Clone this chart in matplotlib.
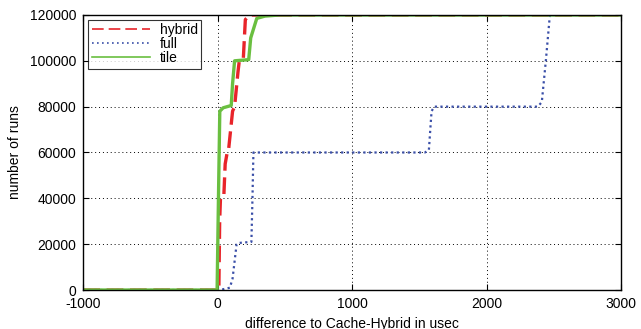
import matplotlib
matplotlib.use("Agg")
import matplotlib.pyplot as plt
from matplotlib.lines import Line2D
import numpy as np

plt.rcParams['font.family'] = ['Liberation Sans', 'DejaVu Sans']

# difference to Cache-Hybrid (usec) vs cumulative number of runs
hybrid_x = [-1000, 8, 14, 20, 45, 55, 70, 80, 110, 125, 150, 160, 190, 205, 240, 3000]
hybrid_y = [0, 0, 30000, 40000, 41000, 55000, 60000, 61000, 78000, 80000, 95000, 100000, 101000, 118000, 120000, 120000]

full_x = [-1000, 15, 90, 110, 140, 150, 250, 258, 265, 1540, 1570, 1590, 1610, 2380, 2410, 2440, 2470, 3000]
full_y = [0, 0, 1000, 5000, 20000, 20500, 21000, 40000, 60000, 60000, 61000, 78000, 80000, 80000, 82000, 100000, 120000, 120000]

tile_x = [-1000, -5, 5, 15, 40, 100, 110, 125, 230, 245, 290, 350, 460, 3000]
tile_y = [0, 0, 40000, 78000, 79500, 80500, 90000, 100000, 100500, 110000, 118500, 119500, 120000, 120000]

xticks = [-1000, 0, 1000, 2000, 3000]
yticks = [0, 20000, 40000, 60000, 80000, 100000, 120000]

red = '#e8242a'
blue = '#3a4fa8'
green = '#6abf40'

fig = plt.figure(figsize=(6.41, 3.29), dpi=100)
ax = fig.add_axes([0.13, 0.1185, 0.839, 0.836])

ax.plot(hybrid_x, hybrid_y, color=red, linestyle=(0, (5, 2)), linewidth=2.4)
ax.plot(full_x, full_y, color=blue, linestyle=(0, (1, 1.5)), linewidth=1.6)
ax.plot(tile_x, tile_y, color=green, linestyle='-', linewidth=2.4)

ax.set_xlim(-1000, 3000)
ax.set_ylim(0, 120000)
ax.set_xticks(xticks, [str(t) for t in xticks])
ax.set_yticks(yticks, [str(t) for t in yticks])
ax.tick_params(direction='in', top=True, right=True, labelsize=10, length=4)
ax.tick_params(axis='x', pad=5)
ax.tick_params(axis='y', pad=5)
ax.grid(True, color='black', linestyle=(0, (1, 3)), linewidth=0.7)

ax.set_xlabel('difference to Cache-Hybrid in usec', fontsize=10, labelpad=4)
ax.set_ylabel('number of runs', fontsize=10, labelpad=6)

for s in ax.spines.values():
    s.set_linewidth(1.0)

handles = [
    Line2D([], [], color=red, linestyle=(0, (7, 3)), linewidth=1.2),
    Line2D([], [], color=blue, linestyle=(0, (1, 2)), linewidth=1.2),
    Line2D([], [], color=green, linestyle='-', linewidth=1.2),
]
leg = ax.legend(handles, ['hybrid', 'full', 'tile'], loc='upper left', fontsize=10,
                frameon=True, fancybox=False, edgecolor='black', borderpad=0.25,
                labelspacing=0.0, handlelength=4.2, handletextpad=0.7,
                borderaxespad=0.35)
leg.get_frame().set_linewidth(0.8)

fig.savefig('out.png', dpi=100)
